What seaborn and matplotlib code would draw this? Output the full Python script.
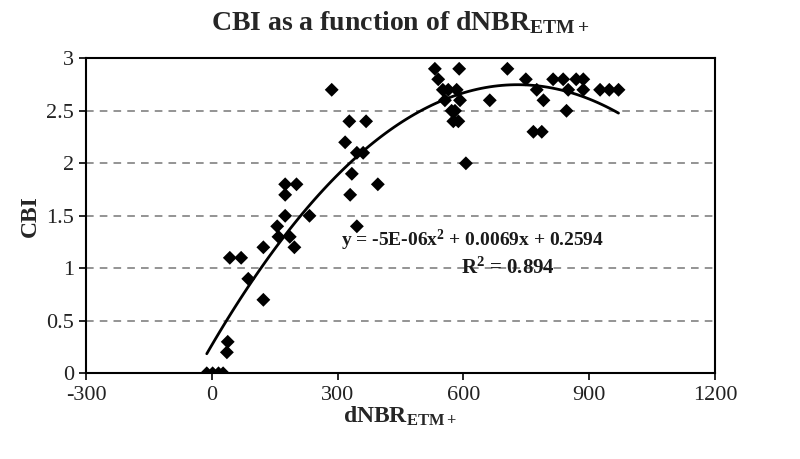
import matplotlib
matplotlib.use("Agg")
import matplotlib.pyplot as plt
import seaborn as sns
import pandas as pd

dnbr = [-12, 2, 16, 27, 36, 38, 43, 70, 87, 123, 123, 156, 159, 175, 175, 175,
        186, 197, 202, 233, 286, 318, 328, 330, 334, 346, 346, 361, 368, 396,
        532, 540, 551, 556, 564, 572, 576, 580, 584, 588, 590, 592, 606, 663,
        705, 749, 767, 775, 787, 791, 814, 838, 846, 850, 869, 886, 886, 926,
        948, 970]
cbi = [0, 0, 0, 0, 0.2, 0.3, 1.1, 1.1, 0.9, 0.7, 1.2, 1.4, 1.3, 1.5, 1.7, 1.8,
       1.3, 1.2, 1.8, 1.5, 2.7, 2.2, 2.4, 1.7, 1.9, 2.1, 1.4, 2.1, 2.4, 1.8,
       2.9, 2.8, 2.7, 2.6, 2.7, 2.5, 2.4, 2.5, 2.7, 2.4, 2.9, 2.6, 2.0, 2.6,
       2.9, 2.8, 2.3, 2.7, 2.3, 2.6, 2.8, 2.8, 2.5, 2.7, 2.8, 2.8, 2.7, 2.7,
       2.7, 2.7]

x_ticks = [-300, 0, 300, 600, 900, 1200]
y_ticks = [0, 0.5, 1, 1.5, 2, 2.5, 3]
equation = "y = -5E-06x$^2$ + 0.0069x + 0.2594"
r2_text = "R$^2$ = 0.894"

df = pd.DataFrame({"dNBR": dnbr, "CBI": cbi})

sns.set_theme(style="white")
plt.rcParams["font.family"] = ["Liberation Serif", "DejaVu Serif"]
plt.rcParams["mathtext.fontset"] = "custom"
plt.rcParams["mathtext.rm"] = "Liberation Serif:bold"
plt.rcParams["mathtext.bf"] = "Liberation Serif:bold"
plt.rcParams["mathtext.it"] = "Liberation Serif:bold"

fig = plt.figure(figsize=(8, 4.59), dpi=100)
ax = fig.add_axes([0.1075, 0.1867, 0.7862, 0.6863])

sns.regplot(data=df, x="dNBR", y="CBI", order=2, ci=None, ax=ax,
            marker="D", color="black",
            scatter_kws={"s": 50, "edgecolor": "none", "alpha": 1.0, "zorder": 3},
            line_kws={"color": "black", "lw": 2.0, "zorder": 2})

ax.set_xlim(-300, 1200)
ax.set_ylim(0, 3)
ax.set_xticks(x_ticks)
ax.set_yticks(y_ticks)
ax.set_xticklabels([str(v) for v in x_ticks])
ax.set_yticklabels([("%g" % v) for v in y_ticks])
ax.tick_params(axis="both", labelsize=16, colors="black", direction="out",
               length=5, width=1.2, left=True, bottom=True)
ax.tick_params(axis="x", pad=4)
for t in ax.get_xticklabels() + ax.get_yticklabels():
    t.set_color("#222222")

for v in y_ticks[1:-1]:
    ax.axhline(v, color="#777777", lw=1.1, ls=(0, (5, 4)), zorder=1)

for s in ax.spines.values():
    s.set_color("black")
    s.set_linewidth(1.5)
    s.set_visible(True)

ax.set_xlabel("dNBR$_{\\mathbf{ETM+}}$", fontsize=17, fontweight="bold", labelpad=0)
ax.set_ylabel("CBI", fontsize=17, fontweight="bold", labelpad=4)
ax.set_title("CBI as a function of dNBR$_{\\mathbf{ETM+}}$", fontsize=20,
             fontweight="bold", pad=20)

ax.text(622, 1.27, equation, fontsize=14, fontweight="bold", ha="center",
        va="center", color="#1a1a1a", zorder=4)
ax.text(706, 1.0, r2_text, fontsize=15, fontweight="bold", ha="center",
        va="center", color="#1a1a1a", zorder=4)

fig.savefig("out.png", dpi=100)
